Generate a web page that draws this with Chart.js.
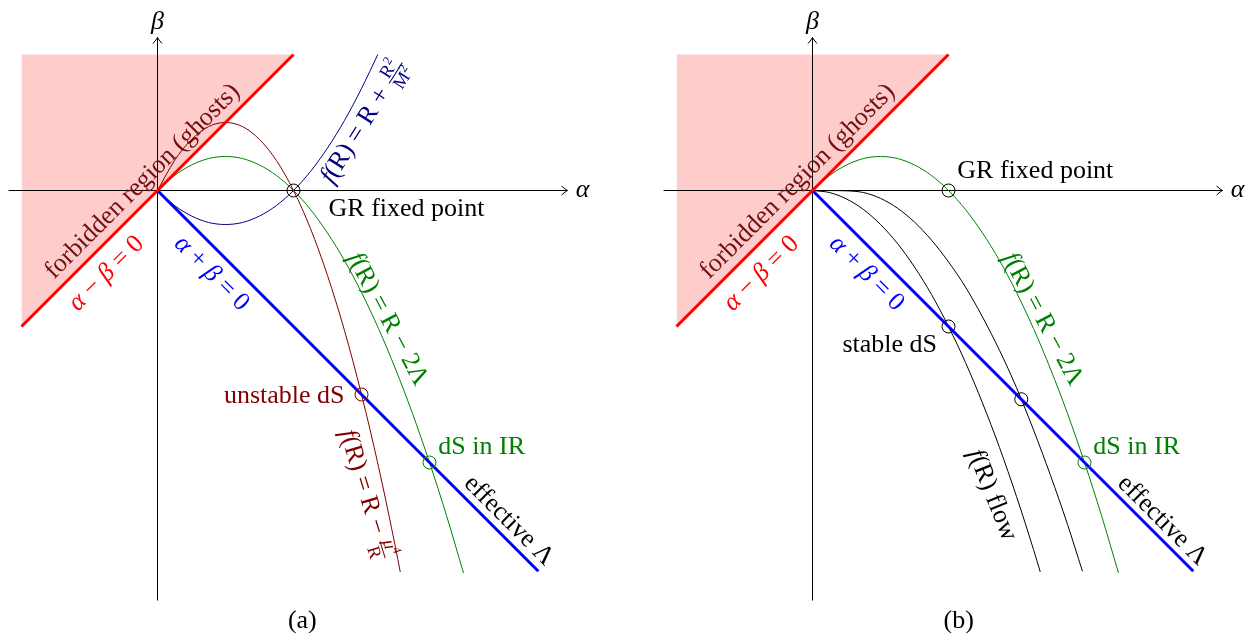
<!DOCTYPE html>
<html><head><meta charset="utf-8">
<script src="https://cdn.jsdelivr.net/npm/chart.js@4.4.1/dist/chart.umd.min.js"></script>
<style>
html,body{margin:0;padding:0;background:#fff;width:1250px;height:633px;overflow:hidden;}
canvas{position:absolute;top:0;}
#ca{left:0;} #cb{left:655px;}
</style></head><body>
<canvas id="ca" width="640" height="633"></canvas>
<canvas id="cb" width="595" height="633"></canvas>
<script>
// ---------- data (units of the alpha/beta plane) ----------
const ghostLineAlpha = [-2, 2];          // alpha - beta = 0
const ghostLineBeta  = [-2, 2];
const ghostTop = 2;                      // top edge of forbidden region
const effLambdaAlpha = [0, 5.6];         // alpha + beta = 0
const effLambdaBeta  = [0, -5.6];
const axisAlpha = [-2.19, 6.03];
const axisBeta  = [-6.03, 2.25];

const greenAlpha = [0,0.25,0.5,0.75,1,1.25,1.5,1.75,2,2.25,2.5,2.75,3,3.25,3.5,3.75,4,4.25,4.5];
const greenBeta  = [0,0.22,0.375,0.47,0.5,0.47,0.375,0.22,0,-0.28,-0.625,-1.03,-1.5,-2.03,-2.625,-3.28,-4,-4.78,-5.625];
const brownAlpha = [0,0.25,0.5,0.75,1,1.25,1.5,1.75,2,2.25,2.5,2.75,3,3.25,3.5,3.57];
const brownBeta  = [0,0.44,0.75,0.94,1,0.94,0.75,0.44,0,-0.56,-1.25,-2.06,-3,-4.06,-5.25,-5.61];
const navyAlpha  = [0,0.25,0.5,0.75,1,1.25,1.5,1.75,2,2.25,2.5,2.75,3,3.24];
const navyBeta   = [0,-0.22,-0.375,-0.47,-0.5,-0.47,-0.375,-0.22,0,0.28,0.625,1.03,1.5,2.0];
const flow1Alpha = [0,0.25,0.5,0.75,1,1.25,1.5,1.75,2,2.25,2.5,2.75,3,3.25,3.35];
const flow1Beta  = [0,-0.03,-0.125,-0.28,-0.5,-0.78,-1.125,-1.53,-2,-2.53,-3.125,-3.78,-4.5,-5.28,-5.61];
const flow2Alpha = [0,0.25,0.5,0.75,1,1.25,1.5,1.75,2,2.25,2.5,2.75,3,3.25,3.5,3.75,3.97];
const flow2Beta  = [0,-0.001,-0.005,-0.03,-0.116,-0.26,-0.465,-0.73,-1.05,-1.42,-1.86,-2.35,-2.9,-3.52,-4.19,-4.91,-5.6];

const leftPointsAlpha  = [2, 3, 4];      // GR fixed point, unstable dS, dS in IR
const leftPointsBeta   = [0, -3, -4];
const rightPointsAlpha = [2, 2, 3.07, 4]; // GR fixed point, stable dS, flow crossing, dS in IR
const rightPointsBeta  = [0, -2, -3.07, -4];

// ---------- styling / layout ----------
const UNIT = 68, OX = 157.5, OY = 190.5, H = 633;
const FONT = '"Liberation Serif", "Times New Roman", serif';
const FS = 26;
const C = {red:'#ff0000', blue:'#0000ff', brown:'#800000', green:'#008000', navy:'#000080', pink:'#ffcccc', black:'#000000'};

const zip = (a, b) => a.map((x, i) => ({x, y: b[i]}));

function curve(xs, ys, color, width, extra) {
  return Object.assign({data: zip(xs, ys), borderColor: color, borderWidth: width, pointRadius: 0,
    tension: 0, fill: false, cubicInterpolationMode: 'monotone'}, extra || {});
}
function straight(xs, ys, color, width, extra) {
  return Object.assign({data: zip(xs, ys), borderColor: color, borderWidth: width, pointRadius: 0,
    tension: 0, fill: false, cubicInterpolationMode: 'default'}, extra || {});
}

// ---------- rich text helpers ----------
function segFont(s, size) { return (s.it ? 'italic ' : '') + size.toFixed(1) + 'px ' + FONT; }
function segWidth(ctx, s, size) {
  if (s.frac) {
    const fs = size * 0.7;
    return Math.max(measureSegs(ctx, s.frac[0], fs), measureSegs(ctx, s.frac[1], fs)) + size * 0.2;
  }
  const sz = s.sup ? size * 0.7 : size;
  ctx.font = segFont(s, sz);
  return ctx.measureText(s.t).width;
}
function measureSegs(ctx, segs, size) { let w = 0; for (const s of segs) w += segWidth(ctx, s, size); return w; }
function drawSegs(ctx, segs, x, y, size) {
  for (const s of segs) {
    const w = segWidth(ctx, s, size);
    if (s.frac) {
      const fs = size * 0.7;
      const nw = measureSegs(ctx, s.frac[0], fs), dw = measureSegs(ctx, s.frac[1], fs);
      const axis = y - size * 0.25;
      drawSegs(ctx, s.frac[0], x + (w - nw) / 2, axis - size * 0.1, fs);
      drawSegs(ctx, s.frac[1], x + (w - dw) / 2, axis + size * 0.1 + fs * 0.66, fs);
      ctx.fillRect(x + size * 0.06, axis - 0.5, w - size * 0.12, 1);
    } else {
      const sz = s.sup ? size * 0.7 : size;
      ctx.font = segFont(s, sz);
      ctx.fillText(s.t, x, s.sup ? y - size * 0.38 : y);
    }
    x += w;
  }
}
const T = (t, it) => ({t, it: !!it});
const eqMinus = [T('α',1), T(' − '), T('β',1), T(' = 0')];
const eqPlus  = [T('α',1), T(' + '), T('β',1), T(' = 0')];
const fR = [T('f',1), T('(R) = R')];

const leftLabels = [
  {a:0, b:2.38, segs:[T('β',1)], align:'center'},
  {a:6.15, b:-0.1, segs:[T('α',1)], align:'left'},
  {a:-0.235, b:0.147, rot:-45, segs:[T('forbidden region (ghosts)')], color:'#701010', vc:true},
  {a:-0.765, b:-1.206, rot:-45, segs:eqMinus, color:C.red, vc:true},
  {a:0.81, b:-1.206, rot:45, segs:eqPlus, color:C.blue, vc:true},
  {a:2.515, b:-0.382, segs:[T('GR fixed point')], align:'left'},
  {a:2.75, b:-3.13, segs:[T('unstable dS')], align:'right', color:C.brown},
  {a:4.13, b:-3.88, segs:[T('dS in IR')], align:'left', color:C.green},
  {a:5.18, b:-4.84, rot:45, segs:[T('effective Λ')], vc:true},
  {a:3.03, b:1.03, rot:-57.7, segs:[...fR, T(' + '), {frac:[[T('R'),{t:'2',sup:true}],[T('M'),{t:'2',sup:true}]]}], color:C.navy, vc:true},
  {a:3.40, b:-1.88, rot:62, segs:[...fR, T(' − 2Λ')], color:C.green, vc:true},
  {a:3.09, b:-4.47, rot:73, segs:[...fR, T(' − '), {frac:[[T('μ',1),{t:'4',sup:true}],[T('R')]]}], color:C.brown, vc:true},
  {a:2.13, b:-6.44, segs:[T('(a)')], align:'center'}
];
const rightLabels = [
  {a:0, b:2.38, segs:[T('β',1)], align:'center'},
  {a:6.15, b:-0.1, segs:[T('α',1)], align:'left'},
  {a:-0.235, b:0.147, rot:-45, segs:[T('forbidden region (ghosts)')], color:'#701010', vc:true},
  {a:-0.765, b:-1.206, rot:-45, segs:eqMinus, color:C.red, vc:true},
  {a:0.81, b:-1.206, rot:45, segs:eqPlus, color:C.blue, vc:true},
  {a:2.13, b:0.19, segs:[T('GR fixed point')], align:'left'},
  {a:0.44, b:-2.38, segs:[T('stable dS')], align:'left'},
  {a:4.13, b:-3.88, segs:[T('dS in IR')], align:'left', color:C.green},
  {a:5.16, b:-4.84, rot:45, segs:[T('effective Λ')], vc:true},
  {a:3.40, b:-1.88, rot:62, segs:[...fR, T(' − 2Λ')], color:C.green, vc:true},
  {a:2.66, b:-4.47, rot:68, segs:[T('f',1), T('(R) flow')], vc:true},
  {a:2.15, b:-6.44, segs:[T('(b)')], align:'center'}
];

const decor = {
  id: 'decor',
  afterDatasetsDraw(chart, args, opts) {
    const ctx = chart.ctx, xs = chart.scales.x, ys = chart.scales.y;
    ctx.save();
    // arrow heads
    ctx.strokeStyle = '#000'; ctx.lineWidth = 1;
    const ax = xs.getPixelForValue(axisAlpha[1]), ay = ys.getPixelForValue(0);
    ctx.beginPath(); ctx.moveTo(ax - 6, ay - 4.5); ctx.quadraticCurveTo(ax - 2, ay - 1, ax, ay);
    ctx.quadraticCurveTo(ax - 2, ay + 1, ax - 6, ay + 4.5); ctx.stroke();
    const bx = xs.getPixelForValue(0), by = ys.getPixelForValue(axisBeta[1]);
    ctx.beginPath(); ctx.moveTo(bx - 4.5, by + 6); ctx.quadraticCurveTo(bx - 1, by + 2, bx, by);
    ctx.quadraticCurveTo(bx + 1, by + 2, bx + 4.5, by + 6); ctx.stroke();
    // labels
    for (const L of opts.labels) {
      const px = xs.getPixelForValue(L.a), py = ys.getPixelForValue(L.b);
      ctx.save();
      ctx.translate(px, py);
      ctx.rotate((L.rot || 0) * Math.PI / 180);
      ctx.fillStyle = L.color || '#000';
      ctx.textBaseline = 'alphabetic'; ctx.textAlign = 'left';
      const w = measureSegs(ctx, L.segs, FS);
      const al = L.align || 'center';
      const x0 = al === 'center' ? -w / 2 : (al === 'right' ? -w : 0);
      drawSegs(ctx, L.segs, x0, L.vc ? FS * 0.32 : 0, FS);
      ctx.restore();
    }
    ctx.restore();
  }
};

function makeChart(id, width, datasets, labels) {
  return new Chart(document.getElementById(id), {
    type: 'line',
    data: {datasets},
    options: {
      responsive: false, animation: false, events: [],
      layout: {padding: 0, autoPadding: false},
      scales: {
        x: {type: 'linear', display: false, min: -OX / UNIT, max: (width - OX) / UNIT},
        y: {type: 'linear', display: false, min: (OY - H) / UNIT, max: OY / UNIT}
      },
      plugins: {legend: {display: false}, tooltip: {enabled: false},
        filler: {drawTime: 'beforeDatasetsDraw'}, decor: {labels}}
    },
    plugins: [decor]
  });
}

function points(xs, ys, colors) {
  return {data: zip(xs, ys), showLine: false, pointRadius: 6.5, pointBorderWidth: 1,
    pointBackgroundColor: 'rgba(0,0,0,0)', pointBorderColor: colors, borderColor: colors};
}

const common = () => [
  straight(ghostLineAlpha, ghostLineBeta, C.red, 3, {fill: {value: ghostTop}, backgroundColor: C.pink}),
  straight(effLambdaAlpha, effLambdaBeta, C.blue, 3)
];
const axes = () => [
  straight(axisAlpha, [0, 0], C.black, 1),
  straight([0, 0], axisBeta, C.black, 1)
];

makeChart('ca', 640, [
  points(leftPointsAlpha, leftPointsBeta, [C.black, C.brown, C.green]),
  ...common(),
  curve(brownAlpha, brownBeta, C.brown, 1),
  curve(greenAlpha, greenBeta, C.green, 1),
  curve(navyAlpha, navyBeta, C.navy, 1),
  ...axes()
], leftLabels);

makeChart('cb', 595, [
  points(rightPointsAlpha, rightPointsBeta, [C.black, C.black, C.black, C.green]),
  ...common(),
  curve(flow1Alpha, flow1Beta, C.black, 1),
  curve(flow2Alpha, flow2Beta, C.black, 1),
  curve(greenAlpha, greenBeta, C.green, 1),
  ...axes()
], rightLabels);
</script>
</body></html>
